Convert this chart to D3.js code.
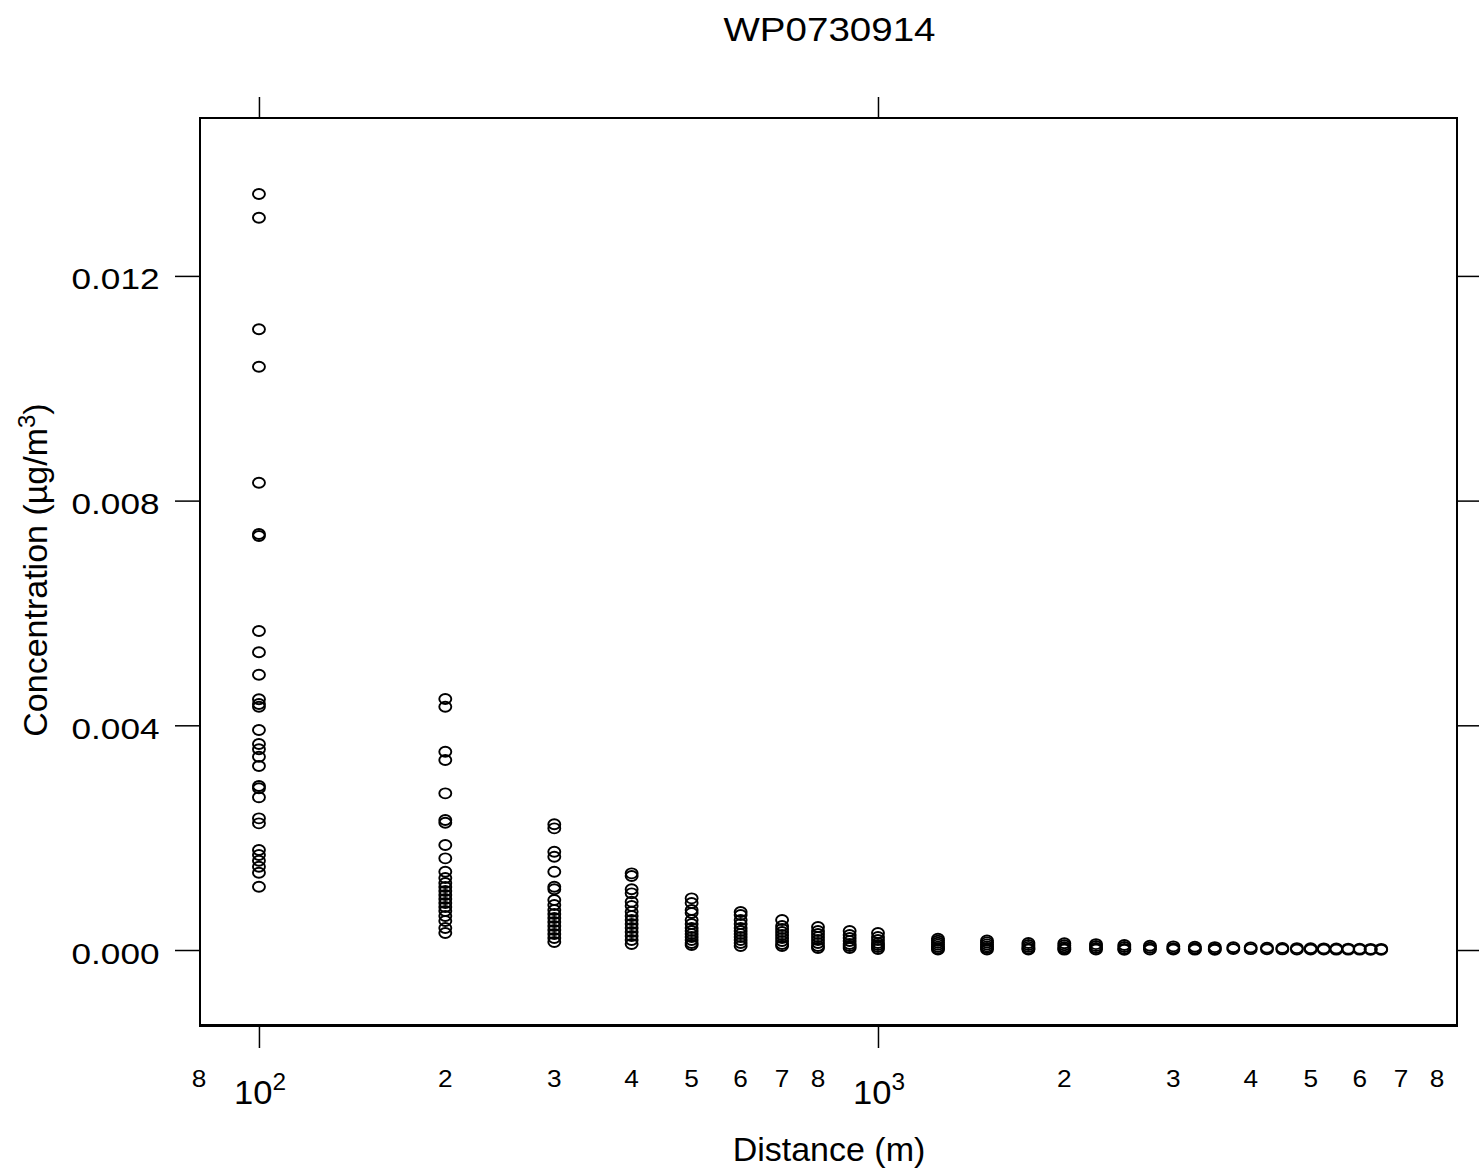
<!DOCTYPE html>
<html>
<head>
<meta charset="utf-8">
<script src="https://cdn.jsdelivr.net/npm/d3@7"></script>
<style>
  html, body { margin: 0; padding: 0; background: #fff; }
  svg { display: block; }
  text { font-family: "Liberation Sans", Arial, Helvetica, sans-serif; fill: #000; }
</style>
</head>
<body>
<svg id="chart" width="1479" height="1175"></svg>
<script>
// Receptor distances (m) and the concentrations modelled at each one (µg/m³)
const distances = [100, 200, 300, 400, 500, 600, 700, 800, 900, 1000,
  1250, 1500, 1750, 2000, 2250, 2500, 2750, 3000, 3250, 3500, 3750, 4000,
  4250, 4500, 4750, 5000, 5250, 5500, 5750, 6000, 6250, 6500];

const concentrations = [
  [0.013458, 0.013036, 0.011050, 0.010384, 0.008319, 0.007406, 0.007370, 0.005679,
   0.005300, 0.004901, 0.004463, 0.004379, 0.004331, 0.003916, 0.003667, 0.003573,
   0.003441, 0.003276, 0.002919, 0.002879, 0.002718, 0.002344, 0.002255, 0.001780,
   0.001691, 0.001590, 0.001483, 0.001376, 0.001127],
  [0.004468, 0.004331, 0.003530, 0.003382, 0.002789, 0.002314, 0.002266, 0.001869,
   0.001632, 0.001394, 0.001282, 0.001193, 0.001122, 0.001050, 0.000979, 0.000908,
   0.000837, 0.000765, 0.000694, 0.000605, 0.000516, 0.000392, 0.000303],
  [0.002238, 0.002166, 0.001750, 0.001661, 0.001394, 0.001127, 0.001081, 0.000890,
   0.000801, 0.000712, 0.000641, 0.000570, 0.000498, 0.000427, 0.000356, 0.000285,
   0.000214, 0.000142],
  [0.001365, 0.001317, 0.001081, 0.001009, 0.000860, 0.000783, 0.000682, 0.000605,
   0.000534, 0.000463, 0.000392, 0.000320, 0.000249, 0.000178, 0.000107],
  [0.000920, 0.000837, 0.000712, 0.000659, 0.000534, 0.000463, 0.000392, 0.000338,
   0.000285, 0.000231, 0.000178, 0.000125, 0.000089],
  [0.000676, 0.000623, 0.000534, 0.000463, 0.000392, 0.000338, 0.000285, 0.000231,
   0.000178, 0.000125, 0.000071],
  [0.000534, 0.000427, 0.000374, 0.000320, 0.000267, 0.000214, 0.000160, 0.000107, 0.000071],
  [0.000409, 0.000338, 0.000285, 0.000231, 0.000178, 0.000125, 0.000071, 0.000036],
  [0.000338, 0.000267, 0.000214, 0.000160, 0.000107, 0.000071, 0.000036],
  [0.000303, 0.000231, 0.000178, 0.000125, 0.000089, 0.000053, 0.000018],
  [0.000200, 0.000165, 0.000130, 0.000095, 0.000060, 0.000030, 0.000010],
  [0.000170, 0.000135, 0.000100, 0.000065, 0.000035, 0.000010],
  [0.000125, 0.000090, 0.000055, 0.000025, 0.000008],
  [0.000120, 0.000085, 0.000050, 0.000022, 0.000006],
  [0.000105, 0.000070, 0.000036, 0.000010],
  [0.000090, 0.000053, 0.000020, 0.000005],
  [0.000075, 0.000040, 0.000010],
  [0.000065, 0.000032, 0.000008],
  [0.000058, 0.000026, 0.000006],
  [0.000052, 0.000022, 0.000005],
  [0.000048, 0.000018],
  [0.000044, 0.000015],
  [0.000040, 0.000013],
  [0.000037, 0.000011],
  [0.000034, 0.000010],
  [0.000031, 0.000009],
  [0.000029, 0.000008],
  [0.000027, 0.000007],
  [0.000025, 0.000006],
  [0.000023, 0.000006],
  [0.000021, 0.000005],
  [0.000020, 0.000005]
];

const yTickValues = [0, 0.004, 0.008, 0.012];
const yTickLabels = ["0.000", "0.004", "0.008", "0.012"];
const xMajorTicks = [100, 1000];
const xMajorExponents = ["2", "3"];
const xMinorTicks = [80, 200, 300, 400, 500, 600, 700, 800, 2000, 3000, 4000, 5000, 6000, 7000, 8000];
const xMinorLabels = ["8", "2", "3", "4", "5", "6", "7", "8", "2", "3", "4", "5", "6", "7", "8"];

const titleText = "WP0730914";
const xTitle = "Distance (m)";

// panel geometry
const panel = { left: 200, right: 1457, top: 118, bottom: 1025 };

const svg = d3.select("#chart");

const x = d3.scaleLog()
  .domain([80.31, 8617])
  .range([panel.left, panel.right]);

const y = d3.scaleLinear()
  .domain([-0.001335, 0.014811])
  .range([panel.bottom, panel.top]);

// points
const points = [];
distances.forEach((d, i) => concentrations[i].forEach(c => points.push({ d, c })));

svg.append("g")
  .selectAll("ellipse")
  .data(points)
  .join("ellipse")
  .attr("cx", p => x(p.d))
  .attr("cy", p => y(p.c))
  .attr("rx", 6)
  .attr("ry", 5)
  .attr("fill", "none")
  .attr("stroke", "#000")
  .attr("stroke-width", 1.9);

// panel frame
svg.append("rect")
  .attr("x", panel.left).attr("y", panel.top)
  .attr("width", panel.right - panel.left)
  .attr("height", panel.bottom - panel.top)
  .attr("fill", "none").attr("stroke", "#000").attr("stroke-width", 2);
svg.append("line")
  .attr("x1", panel.left - 1).attr("x2", panel.right + 1)
  .attr("y1", panel.bottom + 0.5).attr("y2", panel.bottom + 0.5)
  .attr("stroke", "#000").attr("stroke-width", 3);

// tick marks
function styleTicks(g) {
  g.select(".domain").remove();
  g.selectAll(".tick line").attr("stroke", "#000").attr("stroke-width", 1.5);
  g.selectAll(".tick text").remove();
}
svg.append("g").attr("transform", `translate(${panel.left},0)`)
  .call(d3.axisLeft(y).tickValues(yTickValues).tickSize(25)).call(styleTicks);
svg.append("g").attr("transform", `translate(${panel.right},0)`)
  .call(d3.axisRight(y).tickValues(yTickValues).tickSize(24)).call(styleTicks);
svg.append("g").attr("transform", `translate(0,${panel.top})`)
  .call(d3.axisTop(x).tickValues(xMajorTicks).tickSize(21)).call(styleTicks);
svg.append("g").attr("transform", `translate(0,${panel.bottom})`)
  .call(d3.axisBottom(x).tickValues(xMajorTicks).tickSize(23)).call(styleTicks);

// y tick labels
svg.append("g")
  .selectAll("text")
  .data(yTickValues)
  .join("text")
  .attr("transform", v => `translate(159.5,${y(v) + 13.5}) scale(1.2,1)`)
  .attr("text-anchor", "end")
  .attr("font-size", 29.3)
  .text((v, i) => yTickLabels[i]);

// x minor labels
svg.append("g")
  .selectAll("text")
  .data(xMinorTicks)
  .join("text")
  .attr("transform", v => `translate(${x(v)},1087) scale(1.14,1)`)
  .attr("text-anchor", "middle")
  .attr("font-size", 23)
  .text((v, i) => xMinorLabels[i]);

// x major labels: powers of ten
const major = svg.append("g")
  .selectAll("text")
  .data(xMajorTicks)
  .join("text")
  .attr("transform", v => `translate(${x(v) + 1},1104) scale(1.06,1)`)
  .attr("text-anchor", "middle")
  .attr("font-size", 32.6);
major.append("tspan").text("10");
major.append("tspan").attr("dy", -14).attr("font-size", 23).text((v, i) => xMajorExponents[i]);

// title
svg.append("text")
  .attr("transform", "translate(829.5,41) scale(1.15,1)")
  .attr("text-anchor", "middle")
  .attr("font-size", 33.5)
  .text(titleText);

// x axis title
svg.append("text")
  .attr("x", 829).attr("y", 1161)
  .attr("text-anchor", "middle")
  .attr("font-size", 34)
  .text(xTitle);

// y axis title
const yt = svg.append("text")
  .attr("transform", "translate(47,570) rotate(-90)")
  .attr("text-anchor", "middle")
  .attr("font-size", 34);
yt.append("tspan").text("Concentration (µg/m");
yt.append("tspan").attr("dy", -12).attr("font-size", 24).text("3");
yt.append("tspan").attr("dy", 12).text(")");
</script>
</body>
</html>
